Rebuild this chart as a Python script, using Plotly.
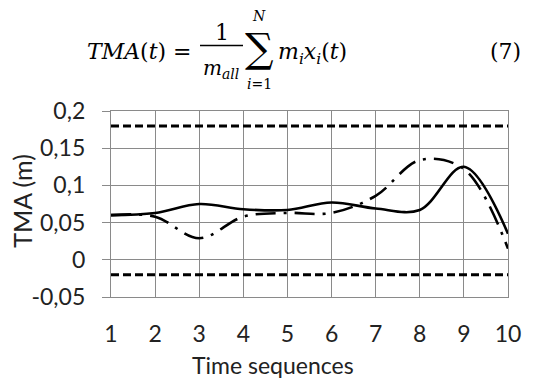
import plotly.graph_objects as go

# ---- data ----
time_seq = [1, 2, 3, 4, 5, 6, 7, 8, 9, 10]
tma_solid = [0.060, 0.063, 0.075, 0.068, 0.067, 0.077, 0.069, 0.067, 0.125, 0.035]
tma_dashdot = [0.060, 0.058, 0.029, 0.058, 0.063, 0.063, 0.086, 0.134, 0.122, 0.015]
upper_limit = 0.18
lower_limit = -0.02
y_tick_vals = [-0.05, 0, 0.05, 0.1, 0.15, 0.2]
y_tick_text = ["-0,05", "0", "0,05", "0,1", "0,15", "0,2"]
x_tick_vals = [1, 2, 3, 4, 5, 6, 7, 8, 9, 10]
x_tick_text = ["1", "2", "3", "4", "5", "6", "7", "8", "9", "10"]

# the page body adds an 8px offset; work in window pixels and subtract it
OFF = 8
W, H = 553 - OFF, 380 - OFF
L, R, T, B = 111 - OFF, 508 - OFF, 111 - OFF, 296.7 - OFF


def px(x):
    return (x - OFF - L) / (R - L)


def py(y):
    return (B - (y - OFF)) / (B - T)


fig = go.Figure()

fig.add_trace(go.Scatter(
    x=[time_seq[0], time_seq[-1]], y=[upper_limit, upper_limit], mode="lines",
    line=dict(color="black", width=3, dash="8px,4px"), showlegend=False, hoverinfo="skip"))
fig.add_trace(go.Scatter(
    x=[time_seq[0], time_seq[-1]], y=[lower_limit, lower_limit], mode="lines",
    line=dict(color="black", width=3, dash="8px,4px"), showlegend=False, hoverinfo="skip"))
fig.add_trace(go.Scatter(
    x=time_seq, y=tma_dashdot, mode="lines",
    line=dict(color="black", width=2.6, dash="20px,8px,3px,8px", shape="spline", smoothing=1.0),
    showlegend=False))
fig.add_trace(go.Scatter(
    x=time_seq, y=tma_solid, mode="lines",
    line=dict(color="black", width=2.6, shape="spline", smoothing=1.0),
    showlegend=False))

grid = "#8a8a8a"
axis_font = dict(family="Lato", size=23, color="#222222")

fig.update_xaxes(
    range=[1, 10], tickvals=x_tick_vals, ticktext=x_tick_text,
    showgrid=True, gridcolor=grid, gridwidth=1.3,
    showline=True, linecolor=grid, linewidth=1.3, mirror=True,
    zeroline=False, ticks="", tickfont=axis_font, ticklabelstandoff=16,
    automargin=False)
fig.update_yaxes(
    range=[-0.05, 0.2], tickvals=y_tick_vals, ticktext=y_tick_text,
    showgrid=True, gridcolor=grid, gridwidth=1.3,
    showline=True, linecolor=grid, linewidth=1.3, mirror=True,
    zeroline=False, ticks="outside", ticklen=8, tickcolor=grid, tickwidth=1.3,
    tickfont=axis_font, ticklabelstandoff=12, automargin=False)

ann = []
ann.append(dict(x=px(273), y=py(365), text="Time sequences", showarrow=False,
                xref="paper", yref="paper", xanchor="center", yanchor="middle",
                font=dict(family="Lato", size=23, color="#222222")))
ann.append(dict(x=px(21.7), y=py(201), text="TMA (m)", showarrow=False, textangle=-90,
                xref="paper", yref="paper", xanchor="center", yanchor="middle",
                font=dict(family="Lato", size=25, color="#222222")))

eq_font = "DejaVu Serif"


def eq(x, y, text, size, xanchor="center"):
    ann.append(dict(x=px(x), y=py(y), text=text, showarrow=False, xref="paper", yref="paper",
                    xanchor=xanchor, yanchor="middle",
                    font=dict(family=eq_font, size=size, color="black")))


eq(194, 52, "<i>TMA</i>(<i>t</i>) =", 22, "right")
eq(222, 33, "1", 22)
eq(221, 69, "<i>m</i><sub><i>all</i></sub>", 20)
eq(259, 48, "∑", 40)
eq(259, 16, "<i>N</i>", 14)
eq(259, 84, "<i>i</i>=1", 14)
eq(276, 54, "<i>m</i><sub><i>i</i></sub><i>x</i><sub><i>i</i></sub>(<i>t</i>)", 22, "left")
eq(488, 52, "(7)", 22, "left")

fig.add_shape(type="line", xref="paper", yref="paper",
              x0=px(200), x1=px(243), y0=py(45.5), y1=py(45.5),
              line=dict(color="black", width=1.5))

fig.update_layout(
    width=W, height=H,
    margin=dict(l=L, r=W - R, t=T, b=H - B, pad=0, autoexpand=False),
    paper_bgcolor="white", plot_bgcolor="white",
    annotations=ann, showlegend=False)

fig.write_html("out.html")
